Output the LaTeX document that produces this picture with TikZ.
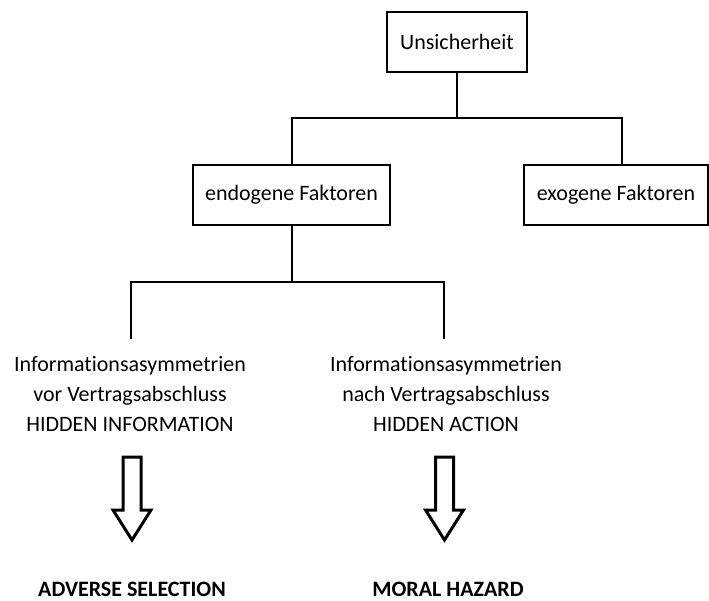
\documentclass[tikz,border=0pt]{standalone}
\usepackage{fontspec}
\setmainfont{Carlito}[Ligatures=NoCommon]
\begin{document}
\begin{tikzpicture}[x=1pt,y=-1pt,
  box/.style={draw,line width=2pt,minimum height=60pt,inner sep=0pt,font=\fontsize{22}{26}\selectfont},
  conn/.style={line width=2pt},
  info/.style={align=center,inner sep=0pt,anchor=north,font=\fontsize{22}{30}\selectfont},
  outcome/.style={anchor=base,inner sep=0pt,font=\bfseries\fontsize{22}{26}\selectfont},
  hollow/.style={line width=3pt,miter limit=10}]
\useasboundingbox (0,0) rectangle (709,601);

% top level and the two kinds of factors
\node[box,minimum width=140pt] (unsich) at (457,42) {Unsicherheit};
\node[box,minimum width=197pt] (endo) at (291.5,195) {endogene Faktoren};
\node[box,minimum width=184pt] (exo) at (616,195) {exogene Faktoren};

\coordinate (j1) at (457,118);
\draw[conn] (unsich.south) -- (j1);
\draw[conn] (endo.north) |- ([xshift=6pt]exo.north |- j1) -- ([xshift=6pt]exo.north);

% information asymmetries
\node[info] (vor) at (130,356) {Informationsasymmetrien\\vor Vertragsabschluss\\HIDDEN INFORMATION};
\node[info] (nach) at (446,356) {Informationsasymmetrien\\nach Vertragsabschluss\\HIDDEN ACTION};

\coordinate (j2) at (291.5,282);
\coordinate (tl) at (131,339);
\coordinate (tr) at (444,339);
\draw[conn] (endo.south) -- (j2);
\draw[conn] (tl) |- (j2) -| (tr);

% hollow block arrows
\coordinate (al) at (132,457);
\coordinate (ar) at (444.5,457);
\foreach \a in {al,ar}{
  \draw[hollow] ([xshift=-9pt]\a) -- ++(0,53) -- ++(-10,0) -- ++(19,30)
    -- ++(19,-30) -- ++(-10,0) -- ++(0,-53) -- cycle;
}

% consequences
\node[outcome] (adverse) at (132,596) {ADVERSE SELECTION};
\node[outcome] (moral) at (448,596) {MORAL HAZARD};
\end{tikzpicture}
\end{document}
